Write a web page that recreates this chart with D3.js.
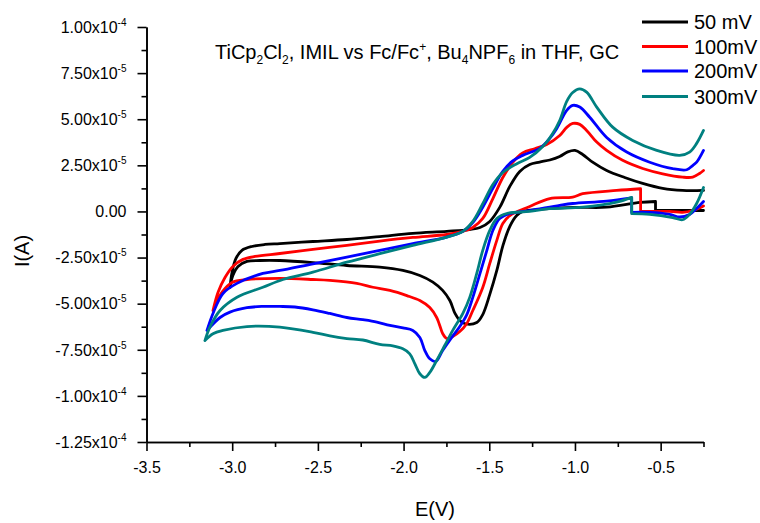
<!DOCTYPE html>
<html>
<head>
<meta charset="utf-8">
<script src="https://cdn.jsdelivr.net/npm/d3@7"></script>
<style>
  body { margin: 0; background: #fff; }
  svg { display: block; }
  text { font-family: "Liberation Sans", Arial, sans-serif; fill: #000; }
</style>
</head>
<body>
<svg id="chart" width="760" height="523"></svg>
<script>
// Cyclic voltammograms of TiCp2Cl2 at four scan rates.
// Each trace: [E (V), I (units of 1e-5 A)], in scan order.
const scanRates = ["50 mV", "100mV", "200mV", "300mV"];
const seriesColors = ["#000000", "#ff0000", "#0000ff", "#008080"];

const cv50 = [
  [-0.25, 0.05], [-0.53, 0.05], [-0.53, 0.54], [-0.62, 0.49], [-0.815, 0.23], [-1.01, 0.22],
  [-1.21, 0.11], [-1.305, 0.0], [-1.34, -0.22], [-1.38, -0.81], [-1.42, -1.84], [-1.456, -3.2],
  [-1.497, -4.5], [-1.538, -5.59], [-1.573, -6.02], [-1.637, -6.1], [-1.672, -5.91], [-1.70, -5.53],
  [-1.73, -4.83], [-1.772, -4.28], [-1.829, -3.83], [-1.905, -3.47], [-2.004, -3.2], [-2.139, -3.02],
  [-2.331, -2.93], [-2.529, -2.77], [-2.722, -2.66], [-2.838, -2.66], [-2.914, -2.71], [-2.966, -2.98],
  [-2.996, -3.47], [-3.013, -4.12],
  [-3.001, -3.31], [-2.978, -2.55], [-2.943, -2.11], [-2.885, -1.9], [-2.809, -1.79], [-2.722, -1.74],
  [-2.529, -1.63], [-2.331, -1.52], [-2.139, -1.36], [-1.946, -1.19], [-1.748, -1.08], [-1.614, -0.98],
  [-1.554, -0.87], [-1.497, -0.54], [-1.439, 0.22], [-1.38, 1.36], [-1.322, 2.17], [-1.264, 2.55],
  [-1.206, 2.68], [-1.147, 2.79], [-1.089, 2.98], [-1.042, 3.23], [-1.0, 3.31], [-0.955, 3.09],
  [-0.897, 2.67], [-0.815, 2.22], [-0.71, 1.84], [-0.605, 1.52], [-0.488, 1.25], [-0.372, 1.14],
  [-0.25, 1.14]
];

const cv100 = [
  [-0.25, 0.3], [-0.313, 0.05], [-0.372, -0.05], [-0.447, 0.0], [-0.617, 0.02], [-0.617, 1.23],
  [-0.757, 1.14], [-0.955, 0.96], [-1.013, 0.78], [-1.147, 0.7], [-1.264, 0.27], [-1.38, -0.22],
  [-1.421, -0.65], [-1.456, -1.57], [-1.497, -2.82], [-1.538, -4.12], [-1.596, -5.37], [-1.631, -6.07],
  [-1.672, -6.51], [-1.713, -6.78], [-1.748, -6.89], [-1.772, -6.62], [-1.789, -6.18], [-1.807, -5.75],
  [-1.847, -5.21], [-1.905, -4.83], [-1.981, -4.56], [-2.08, -4.28], [-2.179, -4.11], [-2.273, -3.9],
  [-2.43, -3.74], [-2.529, -3.69], [-2.722, -3.63], [-2.914, -3.69], [-3.001, -3.85], [-3.06, -4.39],
  [-3.112, -5.37],
  [-3.083, -4.39], [-3.042, -3.58], [-2.996, -2.98], [-2.937, -2.6], [-2.867, -2.44], [-2.722, -2.28],
  [-2.529, -2.06], [-2.331, -1.84], [-2.139, -1.61], [-1.946, -1.41], [-1.748, -1.25], [-1.654, -1.08],
  [-1.596, -0.87], [-1.538, -0.38], [-1.479, 0.7], [-1.421, 1.84], [-1.363, 2.66], [-1.305, 3.17],
  [-1.235, 3.4], [-1.165, 3.63], [-1.089, 4.12], [-1.048, 4.56], [-1.013, 4.77], [-0.972, 4.72],
  [-0.932, 4.39], [-0.873, 3.76], [-0.815, 3.31], [-0.722, 2.77], [-0.605, 2.33], [-0.488, 2.04],
  [-0.372, 1.86], [-0.313, 1.86], [-0.273, 2.06], [-0.25, 2.22]
];

const cv200 = [
  [-0.25, 0.54], [-0.29, 0.16], [-0.331, -0.16], [-0.389, -0.3], [-0.447, -0.16], [-0.564, -0.05],
  [-0.669, -0.05], [-0.669, 0.74], [-0.815, 0.56], [-1.013, 0.43], [-1.089, 0.33], [-1.264, 0.05],
  [-1.38, -0.11], [-1.439, -0.38], [-1.479, -1.03], [-1.514, -2.11], [-1.554, -3.36], [-1.596, -4.66],
  [-1.631, -5.59], [-1.672, -6.24], [-1.719, -6.83], [-1.772, -7.54], [-1.812, -8.13], [-1.847, -7.99],
  [-1.876, -7.54], [-1.905, -6.83], [-1.946, -6.45], [-2.004, -6.31], [-2.08, -6.18], [-2.156, -6.0],
  [-2.238, -5.87], [-2.331, -5.75], [-2.43, -5.53], [-2.529, -5.33], [-2.634, -5.18], [-2.722, -5.15],
  [-2.827, -5.15], [-2.914, -5.22], [-3.013, -5.46], [-3.071, -5.75], [-3.147, -6.45],
  [-3.112, -5.53], [-3.054, -4.45], [-2.972, -3.9], [-2.821, -3.36], [-2.722, -3.2], [-2.529, -2.84],
  [-2.331, -2.48], [-2.139, -2.11], [-1.946, -1.75], [-1.748, -1.39], [-1.654, -1.08], [-1.596, -0.6],
  [-1.538, 0.23], [-1.479, 1.25], [-1.421, 2.17], [-1.363, 2.74], [-1.305, 3.04], [-1.206, 3.42],
  [-1.147, 3.96], [-1.106, 4.5], [-1.048, 5.48], [-1.013, 5.75], [-0.972, 5.66], [-0.914, 5.11],
  [-0.815, 4.01], [-0.698, 3.22], [-0.564, 2.67], [-0.43, 2.32], [-0.348, 2.26], [-0.313, 2.49],
  [-0.29, 2.67], [-0.25, 3.31]
];

const cv300 = [
  [-0.25, 1.3], [-0.29, 0.43], [-0.331, -0.16], [-0.372, -0.45], [-0.43, -0.33], [-0.564, -0.16],
  [-0.669, -0.12], [-0.669, 0.76], [-0.757, 0.5], [-0.955, 0.23], [-1.147, 0.15], [-1.264, 0.0],
  [-1.398, -0.11], [-1.456, -0.38], [-1.497, -1.03], [-1.538, -2.11], [-1.573, -3.36], [-1.614, -4.66],
  [-1.654, -5.53], [-1.713, -6.45], [-1.76, -7.27], [-1.807, -8.08], [-1.847, -8.73], [-1.876, -9.0],
  [-1.905, -8.8], [-1.934, -8.26], [-1.964, -7.72], [-2.004, -7.45], [-2.063, -7.29], [-2.139, -7.21],
  [-2.238, -6.97], [-2.331, -6.89], [-2.43, -6.75], [-2.529, -6.55], [-2.722, -6.27], [-2.914, -6.24],
  [-3.054, -6.45], [-3.112, -6.63], [-3.159, -7.0],
  [-3.13, -6.27], [-3.071, -5.37], [-2.972, -4.65], [-2.821, -4.11], [-2.704, -3.69], [-2.529, -3.29],
  [-2.331, -2.75], [-2.139, -2.29], [-1.946, -1.84], [-1.748, -1.39], [-1.654, -1.08], [-1.596, -0.54],
  [-1.538, 0.42], [-1.479, 1.46], [-1.421, 2.11], [-1.339, 2.59], [-1.264, 2.93], [-1.188, 3.52],
  [-1.13, 4.23], [-1.089, 4.93], [-1.048, 5.97], [-1.013, 6.45], [-0.972, 6.65], [-0.932, 6.47],
  [-0.873, 5.66], [-0.78, 4.57], [-0.663, 3.85], [-0.523, 3.31], [-0.389, 3.04], [-0.331, 3.22],
  [-0.29, 3.69], [-0.25, 4.39]
];

const traces = [cv50, cv100, cv200, cv300];
const currentUnit = 1e-5;

const xTicks = [-3.5, -3.0, -2.5, -2.0, -1.5, -1.0, -0.5];
const xTickLabels = ["-3.5", "-3.0", "-2.5", "-2.0", "-1.5", "-1.0", "-0.5"];
const xMinorTicks = [-3.25, -2.75, -2.25, -1.75, -1.25, -0.75, -0.25];
const yTicks = [1.0e-4, 7.5e-5, 5.0e-5, 2.5e-5, 0, -2.5e-5, -5.0e-5, -7.5e-5, -1.0e-4, -1.25e-4];
const yTickMantissas = ["1.00", "7.50", "5.00", "2.50", "0.00", "-2.50", "-5.00", "-7.50", "-1.00", "-1.25"];
const yTickExponents = ["-4", "-5", "-5", "-5", "", "-5", "-5", "-5", "-4", "-4"];
const yMinorTicks = [8.75e-5, 6.25e-5, 3.75e-5, 1.25e-5, -1.25e-5, -3.75e-5, -6.25e-5, -8.75e-5, -1.125e-4];

const svg = d3.select("#chart");

const x = d3.scaleLinear().domain([-3.5, -0.25]).range([146.5, 703.5]);
const y = d3.scaleLinear().domain([-1.25e-4, 1.0e-4]).range([442, 27]);

// voltammogram traces: smooth runs, with the current step (equal E) and the
// switching potential (most negative E) kept as sharp corners
const smooth = d3.line()
  .x(d => x(d[0]))
  .y(d => y(d[1] * currentUnit))
  .curve(d3.curveCatmullRom.alpha(0.5));
const straight = d3.line()
  .x(d => x(d[0]))
  .y(d => y(d[1] * currentUnit));

function tracePath(pts) {
  const step = pts.findIndex((p, i) => i > 0 && p[0] === pts[i - 1][0]);
  const sw = d3.minIndex(pts, p => p[0]);
  return [
    smooth(pts.slice(0, step)),
    straight(pts.slice(step - 1, step + 1)),
    smooth(pts.slice(step, sw + 1)),
    smooth(pts.slice(sw))
  ].join("");
}

svg.append("g")
  .selectAll("path")
  .data(traces)
  .join("path")
  .attr("d", tracePath)
  .attr("fill", "none")
  .attr("stroke", (d, i) => seriesColors[i])
  .attr("stroke-width", 2.8)
  .attr("stroke-linejoin", "round")
  .attr("stroke-linecap", "round");

// axes
function styleAxis(g) {
  g.select(".domain").attr("stroke", "#000").attr("stroke-width", 1.6);
  g.selectAll(".tick line").attr("stroke", "#000").attr("stroke-width", 1.6);
}

svg.append("g")
  .attr("transform", "translate(0,442)")
  .call(d3.axisBottom(x).tickValues(xMinorTicks).tickSize(5).tickSizeOuter(0).tickFormat(""))
  .call(styleAxis);

const xAxis = svg.append("g")
  .attr("transform", "translate(0,442)")
  .call(d3.axisBottom(x).tickValues(xTicks).tickSize(9).tickSizeOuter(0).tickPadding(11)
    .tickFormat((d, i) => xTickLabels[i]))
  .call(styleAxis);
xAxis.selectAll("text").attr("font-size", 16).attr("font-family", "'Liberation Sans', Arial, sans-serif");

svg.append("g")
  .attr("transform", "translate(146.5,0)")
  .call(d3.axisLeft(y).tickValues(yMinorTicks).tickSize(5).tickSizeOuter(0).tickFormat(""))
  .call(styleAxis);

const yAxis = svg.append("g")
  .attr("transform", "translate(146.5,0)")
  .call(d3.axisLeft(y).tickValues(yTicks).tickSize(9).tickSizeOuter(0).tickPadding(11).tickFormat(""))
  .call(styleAxis);

yAxis.selectAll(".tick text")
  .attr("font-size", 16)
  .attr("font-family", "'Liberation Sans', Arial, sans-serif")
  .attr("dy", "0.33em")
  .each(function (d, i) {
    const t = d3.select(this);
    const exp = yTickExponents[i];
    t.append("tspan").text(exp ? yTickMantissas[i] + "x10" : yTickMantissas[i]);
    if (exp) {
      t.append("tspan").attr("font-size", 10).attr("dy", -7).text(exp);
    }
  });

// axis titles
svg.append("text")
  .attr("x", 435).attr("y", 516)
  .attr("text-anchor", "middle")
  .attr("font-size", 20)
  .text("E(V)");

svg.append("text")
  .attr("transform", "translate(29,251) rotate(-90)")
  .attr("text-anchor", "middle")
  .attr("font-size", 20)
  .text("I(A)");

// title with sub/superscripts
const titleParts = [
  { t: "TiCp" }, { t: "2", s: "sub" }, { t: "Cl" }, { t: "2", s: "sub" },
  { t: ", IMIL vs Fc/Fc" }, { t: "+", s: "sup" }, { t: ", Bu" }, { t: "4", s: "sub" },
  { t: "NPF" }, { t: "6", s: "sub" }, { t: " in THF, GC" }
];
const title = svg.append("text")
  .attr("x", 215).attr("y", 59)
  .attr("font-size", 20)
  .attr("xml:space", "preserve");
let shift = 0;
titleParts.forEach(p => {
  const target = p.s === "sub" ? 5 : p.s === "sup" ? -8 : 0;
  const ts = title.append("tspan").attr("dy", target - shift).text(p.t);
  if (p.s) ts.attr("font-size", 12);
  shift = target;
});

// legend
const legend = svg.append("g");
const legendRows = [22, 46.5, 71, 96.5];
scanRates.forEach((label, i) => {
  legend.append("line")
    .attr("x1", 642).attr("x2", 688)
    .attr("y1", legendRows[i]).attr("y2", legendRows[i])
    .attr("stroke", seriesColors[i])
    .attr("stroke-width", 3);
  legend.append("text")
    .attr("x", 694).attr("y", legendRows[i] + 7)
    .attr("font-size", 20)
    .attr("xml:space", "preserve")
    .text(label);
});
</script>
</body>
</html>
